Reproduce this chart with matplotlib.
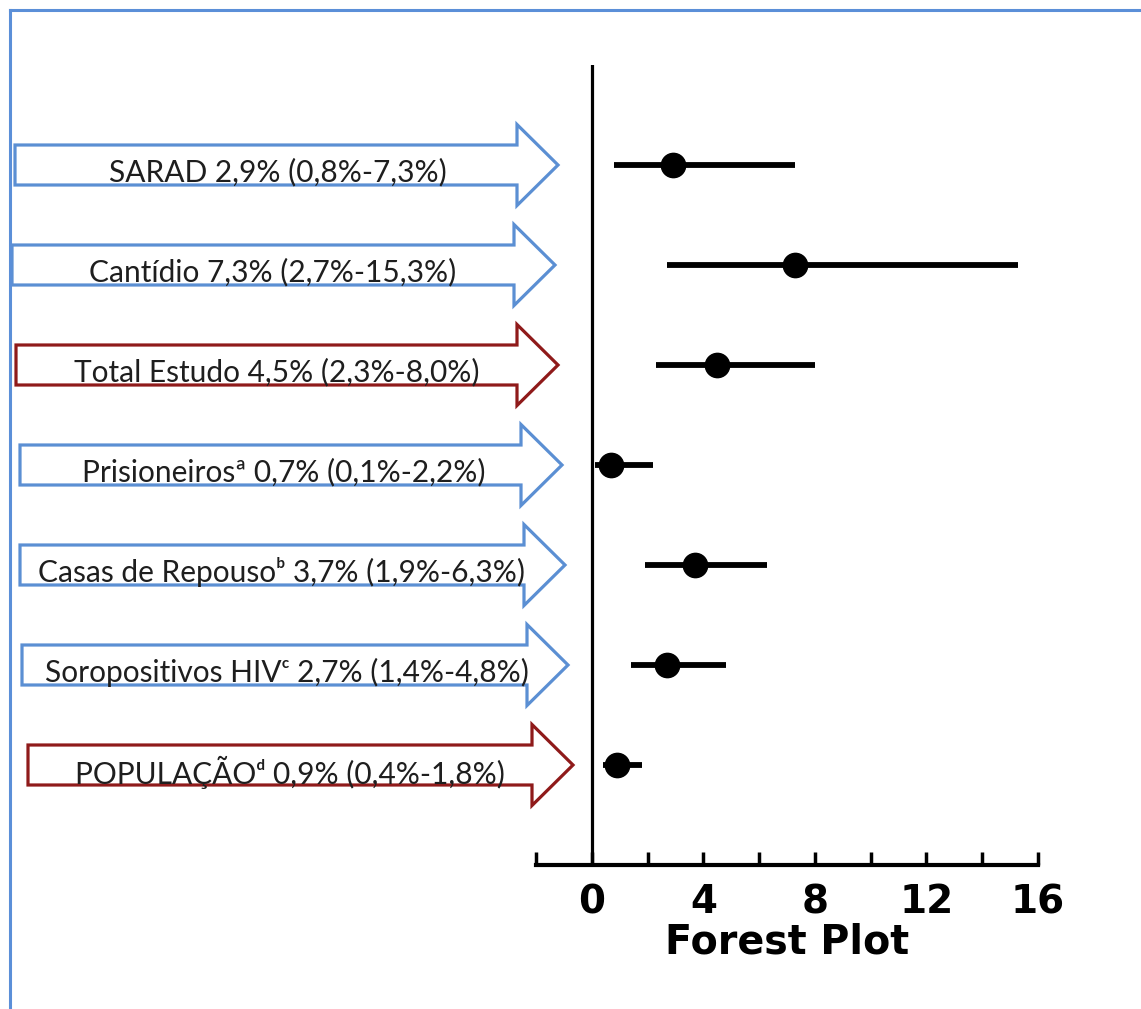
import matplotlib
matplotlib.use("Agg")
import matplotlib.pyplot as plt
from matplotlib.patches import Polygon
from matplotlib.lines import Line2D
from matplotlib.transforms import blended_transform_factory
from matplotlib.ticker import MultipleLocator

# ---------------- data ----------------
labels = [
    "SARAD 2,9% (0,8%-7,3%)",
    "Cantídio 7,3% (2,7%-15,3%)",
    "Total Estudo 4,5% (2,3%-8,0%)",
    "Prisioneiros\u00aa 0,7% (0,1%-2,2%)",
    "Casas de Repouso\u1d47 3,7% (1,9%-6,3%)",
    "Soropositivos HIV\u1d9c 2,7% (1,4%-4,8%)",
    "POPULAÇÃO\u1d48 0,9% (0,4%-1,8%)",
]
estimates = [2.9, 7.3, 4.5, 0.7, 3.7, 2.7, 0.9]
ci_low = [0.8, 2.7, 2.3, 0.1, 1.9, 1.4, 0.4]
ci_high = [7.3, 15.3, 8.0, 2.2, 6.3, 4.8, 1.8]
highlight = [False, False, True, False, False, False, True]
x_ticks_major = [0, 4, 8, 12, 16]
x_label = "Forest Plot"

# ---------------- layout ----------------
W, H = 1141, 1009
fig = plt.figure(figsize=(W / 100, H / 100), dpi=100)
fig.patch.set_facecolor("white")

ax = fig.add_axes([536 / W, 1 - 865 / H, (1038 - 536) / W, 800 / H])
n = len(labels)
rows = list(range(n, 0, -1))
ax.set_xlim(-2, 16)
ax.set_ylim(0, 8)

for y, e, lo, hi in zip(rows, estimates, ci_low, ci_high):
    ax.plot([lo, hi], [y, y], color="black", lw=4.2, solid_capstyle="butt", zorder=3)
    ax.plot([e], [y], "o", color="black", ms=17.5, zorder=4)

ax.axvline(0, ymin=0, ymax=1, color="black", lw=2.3, zorder=2)

for s in ["left", "right", "top"]:
    ax.spines[s].set_visible(False)
ax.spines["bottom"].set_linewidth(3)
ax.set_yticks([])
ax.xaxis.set_minor_locator(MultipleLocator(2))
ax.set_xticks(x_ticks_major)
ax.set_xticklabels([str(t) for t in x_ticks_major])
ax.tick_params(axis="x", which="both", direction="in", length=9.5, width=2.5, pad=13)
ax.tick_params(axis="x", which="major", labelsize=28)
for lbl in ax.get_xticklabels():
    lbl.set_fontweight("bold")
    lbl.set_family("DejaVu Sans")
ax.set_xlabel(x_label, fontsize=28.5, fontweight="bold", family="DejaVu Sans", labelpad=1)
ax.set_facecolor("none")

# arrows: x in figure fraction, y in data rows
trans = blended_transform_factory(fig.transFigure, ax.transData)

arrow_left = [15, 12, 16, 20, 20, 22, 28]
arrow_tip = [558, 555, 558, 562, 565, 568, 573]
text_cx = [278, 273, 277, 284, 282, 287, 290]
head_len = 41
body_h = 0.20
head_h = 0.405
blue = "#5b8fd3"
red = "#8f1a1a"

for y, l, t, cx, lab, hl in zip(rows, arrow_left, arrow_tip, text_cx, labels, highlight):
    hb = t - head_len
    pts = [
        (l, y + body_h), (hb, y + body_h), (hb, y + head_h), (t, y),
        (hb, y - head_h), (hb, y - body_h), (l, y - body_h),
    ]
    pts = [(xx / W, yy) for xx, yy in pts]
    poly = Polygon(pts, closed=True, facecolor="white", edgecolor=red if hl else blue,
                   lw=2.3, transform=trans, clip_on=False, joinstyle="miter", zorder=5)
    ax.add_patch(poly)
    ax.text(cx / W, y - 0.07, lab, transform=trans, ha="center", va="center",
            fontsize=21.5, color="#1e1e1e", family=["Lato", "DejaVu Sans"], zorder=6,
            clip_on=False)

# blue frame (top and left)
fig.add_artist(Line2D([10 / W, 1], [1 - 10 / H, 1 - 10 / H], color="#5b8fd8", lw=2.2,
                      transform=fig.transFigure))
fig.add_artist(Line2D([10 / W, 10 / W], [0, 1 - 10 / H], color="#5b8fd8", lw=2.2,
                      transform=fig.transFigure))

fig.savefig("out.png", dpi=100, facecolor="white")
